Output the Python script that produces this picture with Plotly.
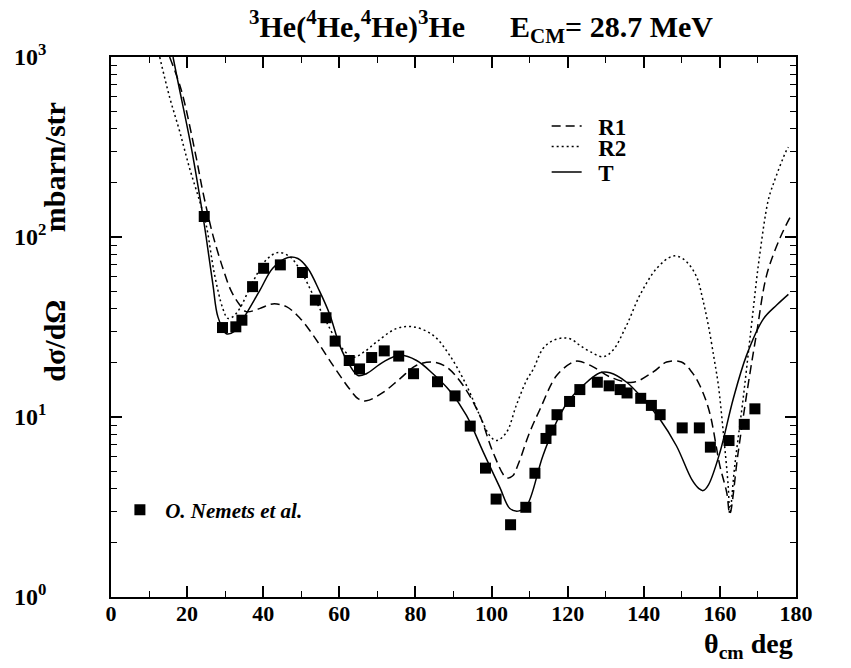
import plotly.graph_objects as go

# ---- data (angles in deg, cross sections in mbarn/str) ----
exp_theta = [24.5, 29.3, 32.8, 34.4, 37.2, 40.1, 44.5, 50.3, 53.7, 56.5, 58.9, 62.6, 65.3, 68.5,
             71.8, 75.6, 79.5, 85.8, 90.4, 94.4, 98.4, 101.2, 105.0, 109.0, 111.4, 114.3, 115.6,
             117.2, 120.5, 123.2, 127.8, 130.9, 133.8, 135.6, 139.2, 142.0, 144.3, 150.1, 154.6,
             157.5, 162.4, 166.4, 169.2]
exp_sigma = [130, 31.4, 31.7, 34.5, 53, 67, 70, 63.5, 44.6, 35.6, 26.4, 20.6, 18.5, 21.4,
             23.3, 21.8, 17.4, 15.7, 13.1, 8.9, 5.2, 3.5, 2.52, 3.15, 4.87, 7.6, 8.46,
             10.3, 12.2, 14.2, 15.6, 14.9, 14.2, 13.6, 12.7, 11.6, 10.3, 8.7, 8.7,
             6.8, 7.4, 9.1, 11.1]

t_theta = [16.3, 17.5, 21.1, 23.7, 25.0, 26.8, 28.1, 30.3, 32.5, 34.7, 39.0, 42.5, 46.5, 49.1,
           51.7, 54.8, 57.5, 60.1, 62.7, 64.9, 67.1, 71.5, 75.9, 80.3, 84.6, 89.0, 93.4, 97.8,
           102.2, 104.8, 107.0, 109.2, 113.5, 117.9, 120.5, 124.1, 128.5, 131.1, 135.5, 139.8,
           144.2, 148.6, 152.6, 154.5, 155.6, 157.0, 160.0, 163.5, 167.0, 171.4, 175.0, 178.0]
t_sigma = [1000, 745, 314, 150, 100, 54, 36, 29, 30, 35, 50, 67, 77, 76,
           67, 50, 37, 25, 19.4, 17.0, 17.4, 20.2, 22, 20.6, 17.4, 14, 10.2, 6.4,
           4.05, 3.1, 3.0, 3.2, 6.1, 10.2, 12.5, 15, 17.6, 17.6, 15.6, 12.6,
           9.75, 6.9, 4.5, 4.0, 3.9, 4.2, 6.35, 12.6, 22, 35, 42, 48]

r1_theta = [15.4, 18.5, 22.4, 24.1, 26.3, 27.2, 29.4, 31.6, 33.8, 35.5, 39.0, 42.5, 46.1, 49.6,
            53.1, 56.6, 58.3, 62.7, 65.0, 67.1, 71.5, 75.9, 80.3, 84.6, 88.1, 92.5, 96.9, 100.4,
            103.9, 105.5, 107.0, 110.0, 112.7, 117.1, 121.4, 123.0, 126.7, 131.1, 137.2, 142.5,
            146.0, 149.9, 152.6, 154.7, 157.2, 160.0, 161.8, 162.6, 164.8, 167.4, 169.7, 172.3,
            175.8, 178.4]
r1_sigma = [1000, 651, 276, 180, 112, 95, 67, 50, 42, 38.5, 40, 42.5, 41, 35.5,
            28.5, 22, 19.4, 14.3, 12.6, 12.3, 13.7, 16.3, 19.4, 20.2, 19.0, 15, 10.2, 6.35,
            4.6, 4.7, 5.46, 8.2, 11, 17, 20.2, 20.4, 19, 16.7, 15.6, 17.8,
            20.2, 20.2, 17.8, 15, 10.8, 5.35, 3.8, 2.9, 6.35, 15, 29.7, 61.6,
            98.7, 128]

r2_theta = [12.8, 15.4, 18.0, 20.6, 23.3, 25.0, 27.2, 29.4, 30.7, 32.0, 33.8, 37.3, 40.8, 43.9,
            46.9, 50.0, 53.1, 56.6, 60.1, 63.6, 66.5, 69.7, 75.0, 79.4, 84.6, 89.0, 93.4, 96.9,
            99.5, 101.3, 103.9, 106.5, 109.2, 111.0, 113.5, 116.0, 118.8, 121.0, 123.2, 126.0,
            129.3, 131.9, 135.5, 139.0, 143.4, 147.3, 149.0, 151.2, 153.9, 155.5, 157.0, 158.5,
            159.6, 160.9, 162.2, 162.6, 163.9, 166.1, 168.3, 170.3, 172.7, 174.0, 177.4, 178.0]
r2_sigma = [1000, 598, 389, 243, 158, 117, 62, 40, 35.3, 36, 40, 56.5, 74.7, 82,
            78, 64, 47.6, 33.8, 25, 21.5, 23, 26, 31, 31.7, 28.5, 22, 15, 10.2,
            7.9, 7.4, 8.2, 11.6, 16, 18.5, 24, 26.5, 27.5, 27, 25, 23,
            21.6, 23.5, 32.4, 47.6, 67, 78, 78, 73, 60, 45, 32, 21,
            15, 8.2, 4.1, 2.9, 5.35, 12.6, 32.4, 75, 160, 196, 300, 315]

y_tickvals = [1, 10, 100, 1000]
y_ticktext = ["10<sup>0</sup>", "10<sup>1</sup>", "10<sup>2</sup>", "10<sup>3</sup>"]
y_minor = [m * 10 ** e for e in range(0, 3) for m in range(2, 10)]

FONT = "Liberation Serif"
SP = "&nbsp;"

fig = go.Figure()
line_w = 1.5
fig.add_trace(go.Scatter(x=r1_theta, y=r1_sigma, mode="lines", name=SP * 2 + "<b>R1</b>",
                         line=dict(color="black", width=line_w, dash="9px,5px"),
                         line_shape="spline", legend="legend"))
fig.add_trace(go.Scatter(x=r2_theta, y=r2_sigma, mode="lines", name=SP * 2 + "<b>R2</b>",
                         line=dict(color="black", width=line_w, dash="2px,3px"),
                         line_shape="spline", legend="legend3"))
fig.add_trace(go.Scatter(x=t_theta, y=t_sigma, mode="lines", name=SP * 2 + "<b>T</b>",
                         line=dict(color="black", width=line_w),
                         line_shape="spline", legend="legend4"))
fig.add_trace(go.Scatter(x=exp_theta, y=exp_sigma, mode="markers",
                         name=SP + "<b><i>O. Nemets et al.</i></b>",
                         marker=dict(symbol="square", size=11, color="black"),
                         legend="legend2"))

axis_common = dict(showline=True, linecolor="black", linewidth=1.5, mirror="allticks",
                   ticks="inside", tickcolor="black", tickwidth=1.5, ticklen=11,
                   showgrid=False, zeroline=False, automargin=False)

fig.update_xaxes(range=[0, 180], tickmode="linear", tick0=0, dtick=20,
                 tickprefix="<b>", ticksuffix="</b>", ticklabelstandoff=-4,
                 tickfont=dict(family=FONT, size=22, color="black"),
                 minor=dict(dtick=10, ticks="inside", ticklen=6, tickcolor="black", tickwidth=1.2),
                 **axis_common)
fig.update_yaxes(type="log", range=[0, 3], tickmode="array", tickvals=y_tickvals,
                 ticktext=["<b>" + t + "</b>" for t in y_ticktext], ticklabelstandoff=58,
                 tickfont=dict(family=FONT, size=24, color="black"),
                 minor=dict(tickmode="array", tickvals=y_minor, ticks="inside", ticklen=6,
                            tickcolor="black", tickwidth=1.2),
                 **axis_common)

leg_font = dict(family=FONT, size=23, color="black")
leg_common = dict(xanchor="left", yanchor="middle", bgcolor="rgba(0,0,0,0)", itemwidth=30)

fig.update_layout(
    width=851, height=668,
    margin=dict(l=103, r=63, t=49, b=79),
    paper_bgcolor="white", plot_bgcolor="white",
    font=dict(family=FONT, color="black"),
    showlegend=True,
    legend=dict(x=0.636, y=0.872, font=leg_font, **leg_common),
    legend3=dict(x=0.636, y=0.834, font=leg_font, **leg_common),
    legend4=dict(x=0.636, y=0.787, font=leg_font, **leg_common),
    legend2=dict(x=0.013, y=0.161, font=dict(family=FONT, size=21, color="black"), **leg_common),
    annotations=[
        dict(text="<b><sup>3</sup>He(<sup>4</sup>He,<sup>4</sup>He)<sup>3</sup>He" + SP * 6 +
                  "E<sub>CM</sub>= 28.7 MeV</b>",
             xref="paper", yref="paper", x=0.54, y=1.0, yshift=31, xanchor="center",
             yanchor="middle", showarrow=False, font=dict(family=FONT, size=30)),
        dict(text="<b>dσ/dΩ" + SP * 9 + "mbarn/str</b>", textangle=-90,
             xref="paper", yref="paper", x=0, xshift=-56, y=0.658, xanchor="center",
             yanchor="middle", showarrow=False, font=dict(family=FONT, size=30)),
        dict(text="<b>θ<sub>cm</sub> deg</b>",
             xref="paper", yref="paper", x=0.93, y=0, yshift=-48, xanchor="center",
             yanchor="middle", showarrow=False, font=dict(family=FONT, size=28)),
    ],
)

fig.write_html("out.html")
